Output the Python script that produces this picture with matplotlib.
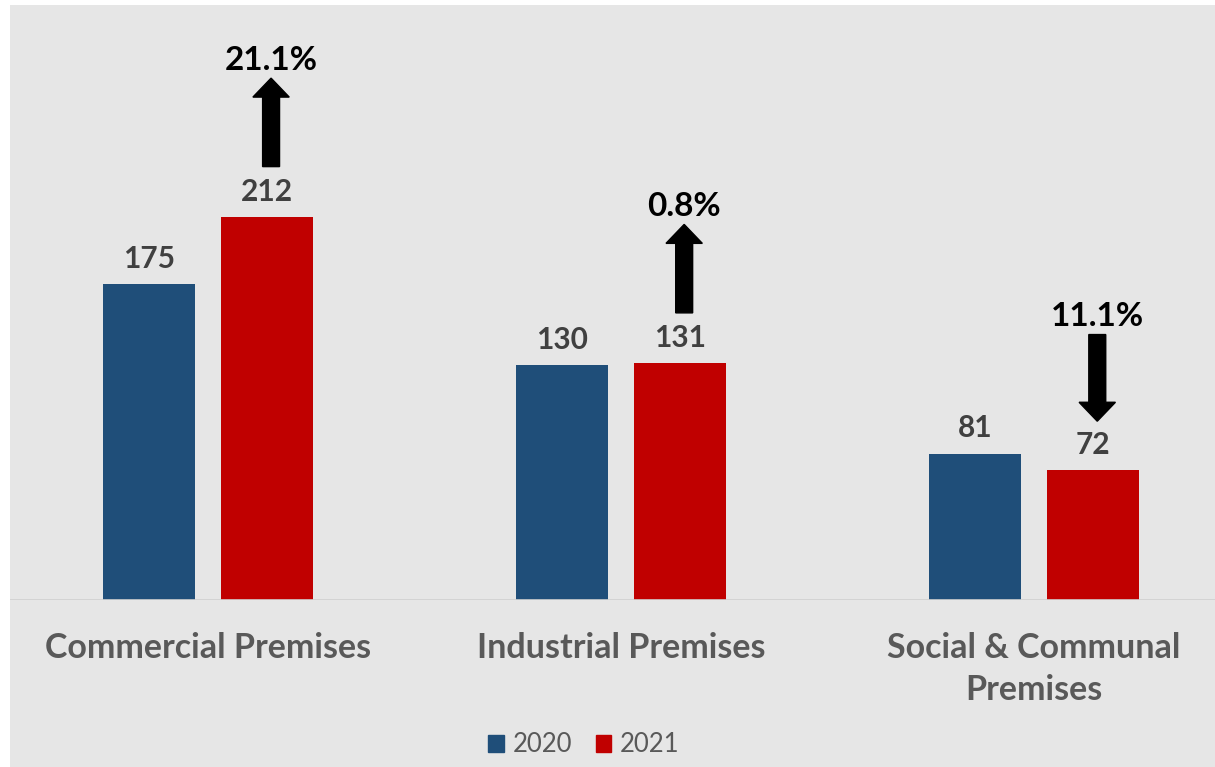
import numpy as np
import matplotlib.pyplot as plt
from matplotlib.patches import Patch, Rectangle

categories = ["Commercial Premises", "Industrial Premises", "Social & Communal\nPremises"]
years = ["2020", "2021"]
values_2020 = [175, 130, 81]
values_2021 = [212, 131, 72]
changes = ["21.1%", "0.8%", "11.1%"]
directions = ["up", "up", "down"]

BLUE = "#1F4E79"
RED = "#C00000"
BG = "#E6E6E6"

plt.rcParams["font.family"] = ["Lato", "DejaVu Sans"]

fig = plt.figure(figsize=(12.15, 7.67), dpi=100, facecolor="white")
fig.patches.append(Rectangle((10 / 1215, 0), 1, 762 / 767, transform=fig.transFigure,
                             facecolor=BG, edgecolor="none", zorder=-10))

ax = fig.add_axes([10 / 1215, 167 / 767, 1205 / 1215, 595 / 767])
ax.set_facecolor("none")

x = np.arange(len(categories))
w = 0.223
off = 0.143
b1 = ax.bar(x - off, values_2020, w, color=BLUE, label=years[0])
b2 = ax.bar(x + off, values_2021, w, color=RED, label=years[1])

for bars, vals in [(b1, values_2020), (b2, values_2021)]:
    for rect, v in zip(bars, vals):
        ax.text(rect.get_x() + rect.get_width() / 2, v + 14, str(v), ha="center", va="center",
                fontsize=21.5, fontweight="bold", color="#404040")

# change arrows above the 2021 bars
for xi, v, txt, d in zip(x, values_2021, changes, directions):
    xa = xi + off + 0.01
    if d == "up":
        start, end = v + 28, v + 77
        ty = end + 10
    else:
        start, end = v + 75, v + 27
        ty = start + 10
    ax.arrow(xa, start, 0, end - start, width=0.041, head_width=0.088, head_length=10.5,
             length_includes_head=True, color="black", zorder=3)
    ax.text(xa, ty, txt, ha="center", va="center", fontsize=24, fontweight="bold", color="black")

ax.axhline(0, color="#D0D0D0", lw=1.2)
ax.set_xlim(-0.479, 2.438)
ax.set_ylim(0, 329.5)
ax.set_xticks(x)
ax.set_xticklabels(categories, fontsize=24.5, fontweight="bold", color="#595959", linespacing=1.37)
ax.tick_params(axis="x", length=0, pad=23)
ax.set_yticks([])
for s in ax.spines.values():
    s.set_visible(False)

handles = [Patch(color=BLUE), Patch(color=RED)]
fig.legend(handles, years, loc="center", bbox_to_anchor=(584 / 1215, 22 / 767), ncol=2,
           frameon=False, fontsize=18.5, handlelength=0.6, handleheight=0.6,
           handletextpad=0.35, columnspacing=0.9, labelcolor="#595959")

fig.savefig("out.png", dpi=100, facecolor=fig.get_facecolor())
